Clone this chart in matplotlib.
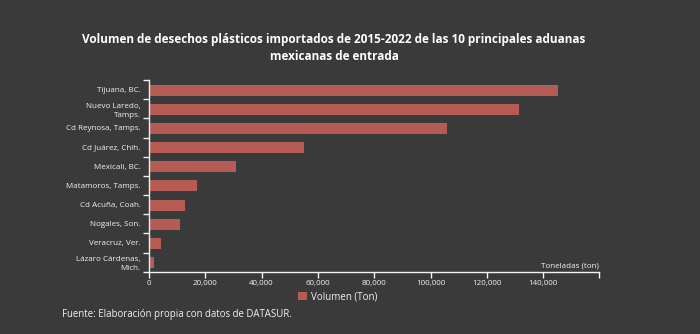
import numpy as np
import matplotlib
matplotlib.use("Agg")
from matplotlib import pyplot as plt
from matplotlib.patches import Patch

# data
aduanas = ["Tijuana, BC.", "Nuevo Laredo,\nTamps.", "Cd Reynosa, Tamps.",
           "Cd Juárez, Chih.", "Mexicali, BC.", "Matamoros, Tamps.",
           "Cd Acuña, Coah.", "Nogales, Son.", "Veracruz, Ver.",
           "Lázaro Cárdenas,\nMich."]
volumen = [145300, 131400, 105900, 54900, 31000, 16900, 12700, 11100, 4300, 1600]
xticks = [0, 20000, 40000, 60000, 80000, 100000, 120000, 140000]

BG = "#3a3a3a"
BAR = "#b55b53"
FG = "#f2f2f2"

plt.rcParams["font.family"] = ["Open Sans", "DejaVu Sans"]

fig = plt.figure(figsize=(7, 3.34), dpi=100, facecolor=BG)
ax = fig.add_axes([149 / 700, 1 - 271.7 / 334, 450 / 700, 191.7 / 334])
ax.set_facecolor(BG)

y = np.arange(len(aduanas))
ax.barh(y, volumen, height=0.62, color=BAR, edgecolor="#2e3b3e", linewidth=0.6)

xmax = max(volumen) * 1.1
ax.set_xlim(0, xmax)
ax.set_ylim(len(aduanas) - 0.5, -0.5)

# y axis: labels centred on bars, tick marks at band edges
ax.set_yticks(y)
ax.set_yticklabels(aduanas, fontsize=5.8, color=FG, linespacing=1.35)
ax.tick_params(axis="y", which="major", length=0, pad=6)
ax.set_yticks(np.arange(-0.5, len(aduanas) + 0.5), minor=True)
ax.tick_params(axis="y", which="minor", length=4, width=1, color=FG)

# x axis: labelled ticks plus the end-of-domain tick
ax.set_xticks(xticks)
ax.set_xticklabels([f"{v:,}" for v in xticks], fontsize=5.8, color=FG)
ax.set_xticks([xmax], minor=True)
ax.tick_params(axis="x", which="both", length=4, width=1, color=FG, pad=2)

for side in ["top", "right"]:
    ax.spines[side].set_visible(False)
for side in ["left", "bottom"]:
    ax.spines[side].set_color(FG)
    ax.spines[side].set_linewidth(1)

ax.text(1.0, 0.012, "Toneladas (ton)", transform=ax.transAxes, ha="right",
        va="bottom", fontsize=5.8, color=FG)

fig.text(334 / 700, 1 - 40 / 334, "Volumen de desechos plásticos importados de 2015-2022 de las 10 principales aduanas",
         ha="center", va="center", fontsize=8.5, fontweight="bold", color="white")
fig.text(334 / 700, 1 - 57 / 334, "mexicanas de entrada",
         ha="center", va="center", fontsize=8.5, fontweight="bold", color="white")

leg = fig.legend(handles=[Patch(facecolor=BAR, label="Volumen (Ton)")],
                 loc="center", bbox_to_anchor=(338 / 700, 1 - 297 / 334),
                 frameon=False, fontsize=7, handlelength=0.9, handleheight=0.9,
                 handletextpad=0.4)
for t in leg.get_texts():
    t.set_color(FG)

fig.text(62 / 700, 1 - 315 / 334, "Fuente: Elaboración propia con datos de DATASUR.",
         ha="left", va="center", fontsize=6.9, color=FG)

fig.savefig("out.png", dpi=100, facecolor=BG)
